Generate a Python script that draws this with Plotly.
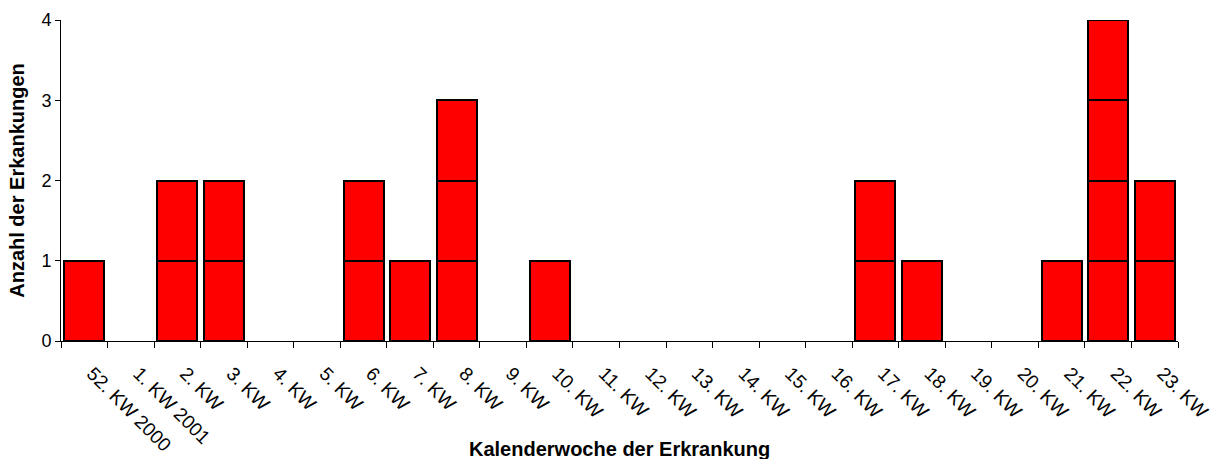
import plotly.graph_objects as go

# Calendar weeks and number of cases per week
weeks = ["52. KW 2000", "1. KW 2001"] + [f"{i}. KW" for i in range(2, 24)]
cases = [1, 0, 2, 2, 0, 0, 2, 1, 3, 0, 1, 0, 0, 0, 0, 0, 0, 2, 1, 0, 0, 1, 4, 2]

FONT = "Liberation Sans, Arial, sans-serif"

fig = go.Figure()

# One box per case: stack unit segments up to each week's count
max_cases = max(cases)
for level in range(1, max_cases + 1):
    fig.add_trace(go.Bar(
        x=weeks,
        y=[1 if c >= level else None for c in cases],
        marker=dict(color="#ff0000", line=dict(color="#000000", width=2)),
        showlegend=False,
        hoverinfo="skip",
    ))

fig.update_layout(
    barmode="stack",
    bargap=0.14,
    width=1224,
    height=459,
    margin=dict(l=61, r=46, t=20, b=118, autoexpand=False),
    paper_bgcolor="white",
    plot_bgcolor="white",
    font=dict(family=FONT, size=18, color="black"),
)

fig.update_xaxes(
    type="category",
    automargin=False,
    tickson="boundaries",
    ticks="outside",
    ticklen=6,
    tickcolor="black",
    tickwidth=1,
    tickangle=45,
    ticklabelstandoff=13,
    ticklabelshift=8,
    showline=True,
    linecolor="black",
    linewidth=1,
    showgrid=False,
    tickfont=dict(size=19),
)

fig.update_yaxes(
    range=[0, 4],
    tickvals=[0, 1, 2, 3, 4],
    automargin=False,
    ticks="outside",
    ticklen=5,
    tickcolor="black",
    showline=True,
    linecolor="black",
    linewidth=1,
    showgrid=False,
    zeroline=False,
    tickfont=dict(size=18),
    title=dict(text="<b>Anzahl der Erkankungen</b>", font=dict(size=20), standoff=11),
)

# X-axis title placed below the rotated week labels
fig.add_annotation(
    text="<b>Kalenderwoche der Erkrankung</b>",
    xref="paper", yref="paper",
    x=0.5, y=0,
    xanchor="center", yanchor="top",
    yshift=-95,
    showarrow=False,
    font=dict(family=FONT, size=20, color="black"),
)

fig.write_html("out.html")
